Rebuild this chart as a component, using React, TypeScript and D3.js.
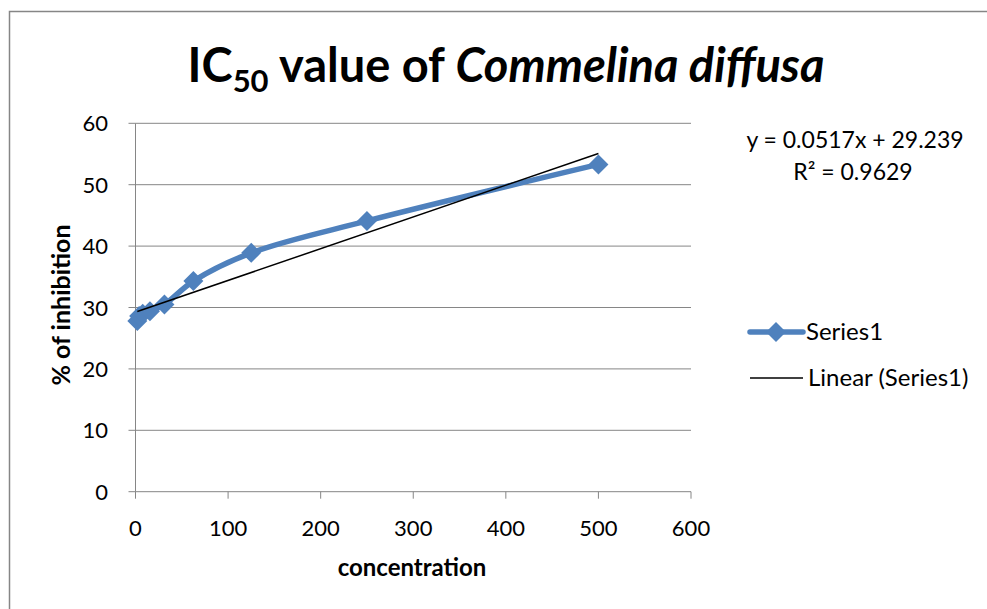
import React from "react";
import * as d3 from "d3";

const concentration = [1.95, 3.9, 7.8, 15.6, 31.25, 62.5, 125, 250, 500];
const inhibition = [27.8, 28.6, 29.0, 29.4, 30.5, 34.3, 38.9, 44.1, 53.3];
const xTicks = [0, 100, 200, 300, 400, 500, 600];
const yTicks = [0, 10, 20, 30, 40, 50, 60];
const slope = 0.0517;
const intercept = 29.239;
const eqText = "y = 0.0517x + 29.239";
const r2Text = "R² = 0.9629";
const legendLabels = ["Series1", "Linear (Series1)"];

const W = 987;
const H = 609;
const FONT = "Lato, 'Open Sans', 'DejaVu Sans', sans-serif";
const BLUE = "#4F81BD";
const GRID = "#868686";

export default function App() {
  const x = d3.scaleLinear().domain([0, 600]).range([135.5, 691]);
  const y = d3.scaleLinear().domain([0, 60]).range([491.7, 123.3]);
  const pts: [number, number][] = concentration.map((c, i) => [x(c), y(inhibition[i])]);
  const line = d3.line().curve(d3.curveCatmullRom.alpha(0.5))(pts) || "";
  const xMin = d3.min(concentration) as number;
  const xMax = d3.max(concentration) as number;
  const diamond = (cx: number, cy: number, r: number) =>
    `M${cx},${cy - r}L${cx + r},${cy}L${cx},${cy + r}L${cx - r},${cy}Z`;

  return (
    <svg width={W} height={H} style={{ position: "absolute", left: 0, top: 0 }} fontFamily={FONT}>
      <rect x={0} y={0} width={W} height={H} fill="#fff" />
      <path d={`M9.5,${H}V11.5H${W}`} fill="none" stroke="#868686" strokeWidth={1.5} />
      {/* title */}
      <text x={506} y={82} textAnchor="middle" fontSize={47} fontWeight="bold" fill="#000">
        IC<tspan fontSize={31} dy={10}>50</tspan>
        <tspan dy={-10}> value of </tspan>
        <tspan fontStyle="italic">Commelina diffusa</tspan>
      </text>
      {/* gridlines */}
      {yTicks.filter((t) => t > 0).map((t) => (
        <line key={t} x1={x(0)} x2={x(600)} y1={y(t)} y2={y(t)} stroke={GRID} strokeWidth={1} />
      ))}
      {/* axes */}
      <line x1={x(0)} x2={x(0)} y1={y(60)} y2={y(0)} stroke={GRID} strokeWidth={1} />
      <line x1={x(0)} x2={x(600)} y1={y(0)} y2={y(0)} stroke={GRID} strokeWidth={1} />
      {yTicks.map((t) => (
        <g key={t}>
          <line x1={x(0) - 7} x2={x(0)} y1={y(t)} y2={y(t)} stroke={GRID} />
          <text x={108} y={y(t) + 8} textAnchor="end" fontSize={22} fill="#000">{t}</text>
        </g>
      ))}
      {xTicks.map((t) => (
        <g key={t}>
          <line x1={x(t)} x2={x(t)} y1={y(0)} y2={y(0) + 7} stroke={GRID} />
          <text x={x(t)} y={536} textAnchor="middle" fontSize={22} fill="#000">{t}</text>
        </g>
      ))}
      <text x={412} y={576} textAnchor="middle" fontSize={24} fontWeight="bold">concentration</text>
      <text transform={`translate(70,305) rotate(-90)`} textAnchor="middle" fontSize={25} fontWeight="bold">% of inhibition</text>
      {/* series */}
      <path d={line} fill="none" stroke={BLUE} strokeWidth={5.5} strokeLinejoin="round" />
      {pts.map(([px, py], i) => (
        <path key={i} d={diamond(px, py, 10)} fill={BLUE} />
      ))}
      {/* trendline */}
      <line x1={x(xMin)} y1={y(intercept + slope * xMin)} x2={x(xMax)} y2={y(intercept + slope * xMax)} stroke="#000" strokeWidth={1.5} />
      <text x={855} y={148} textAnchor="middle" fontSize={23}>{eqText}</text>
      <text x={853} y={180} textAnchor="middle" fontSize={23}>{r2Text}</text>
      {/* legend */}
      <line x1={750} x2={803} y1={332} y2={332} stroke={BLUE} strokeWidth={5.5} strokeLinecap="round" />
      <path d={diamond(776, 332, 10)} fill={BLUE} />
      <text x={806} y={340} fontSize={24}>{legendLabels[0]}</text>
      <line x1={750} x2={803} y1={378} y2={378} stroke="#000" strokeWidth={1.5} />
      <text x={808} y={386} fontSize={24}>{legendLabels[1]}</text>
    </svg>
  );
}
